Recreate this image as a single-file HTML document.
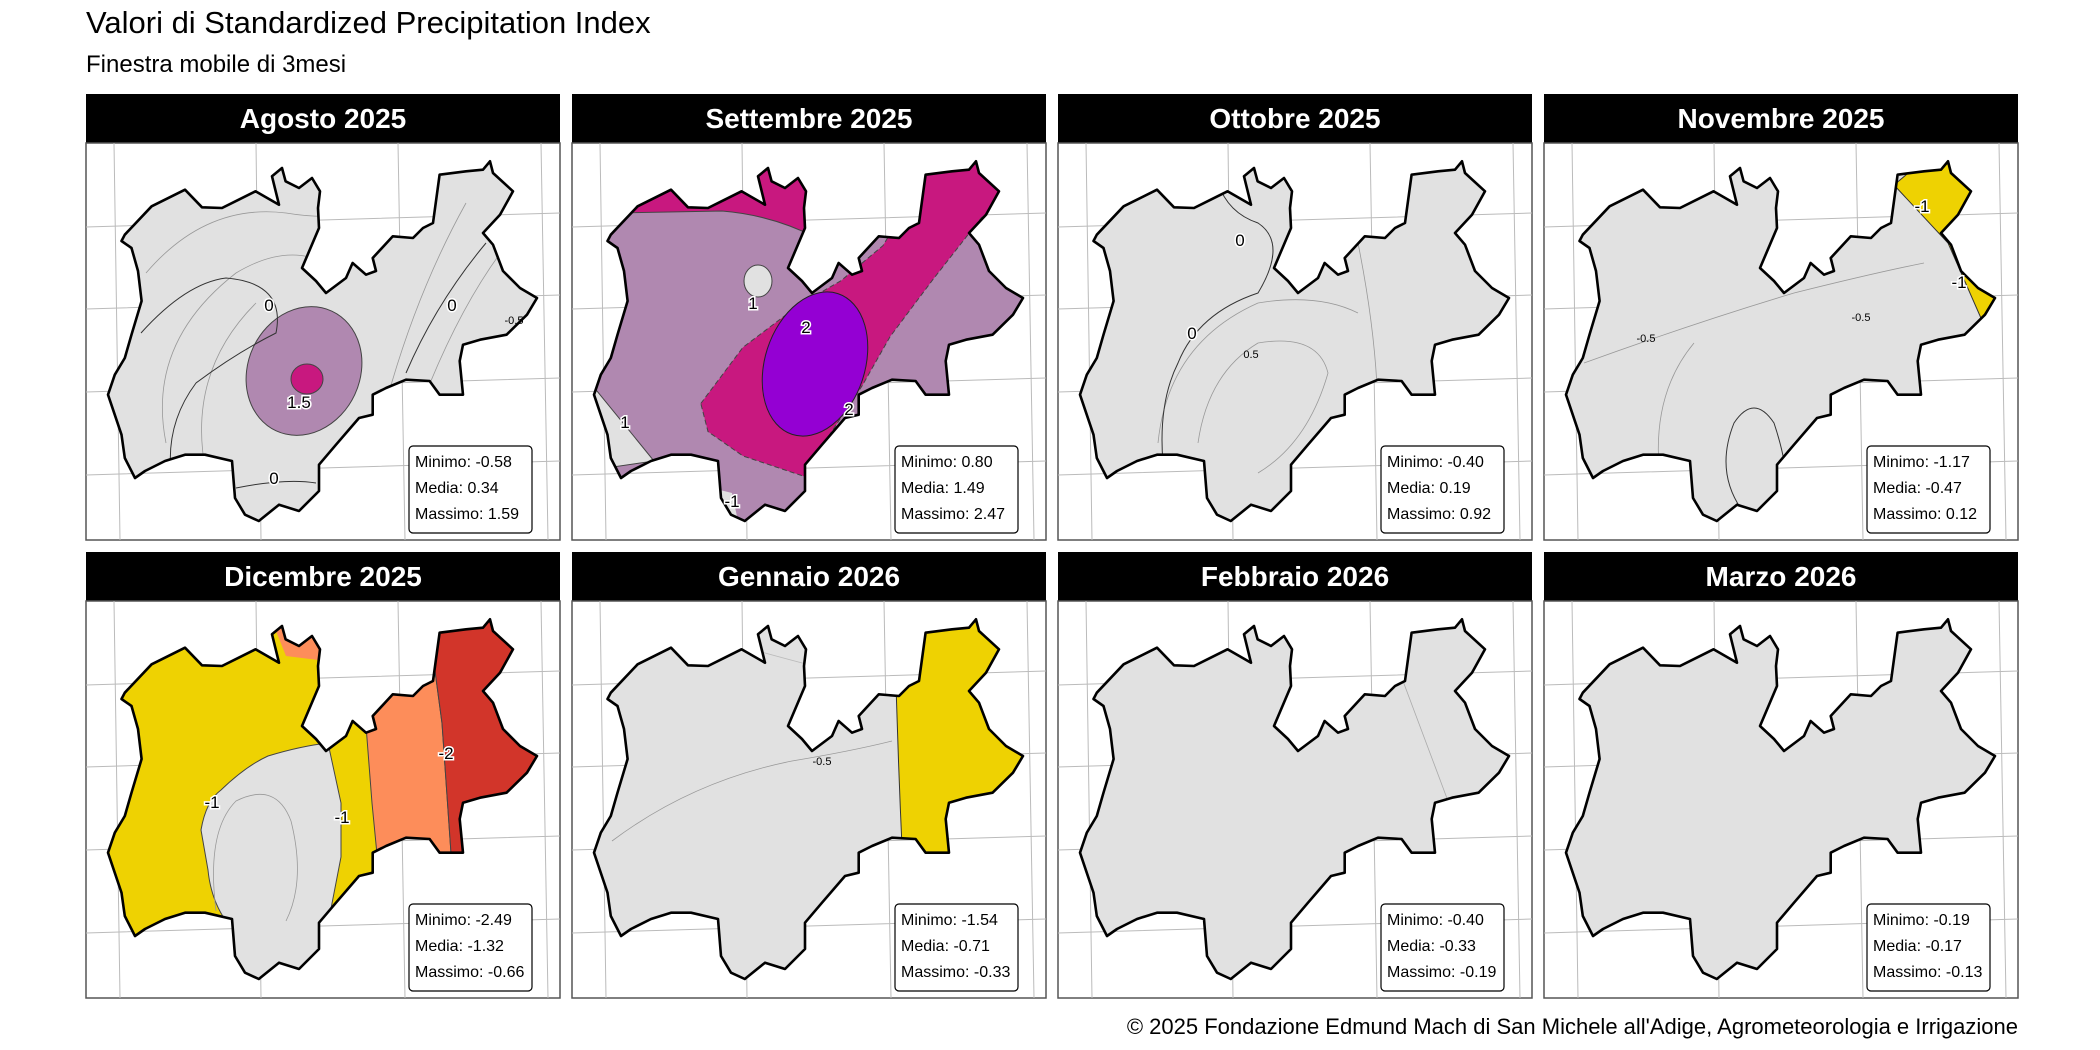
<!DOCTYPE html>
<html><head><meta charset="utf-8"><style>
html,body{margin:0;padding:0;background:#fff;}
svg{display:block;}
text{font-family:"Liberation Sans Narrow","Liberation Sans",sans-serif;}
</style></head><body>
<svg width="2100" height="1050" viewBox="0 0 2100 1050" xmlns="http://www.w3.org/2000/svg">
<defs>
<path id="ol" d="M65.6,63.3 L99,46.7 116,64.3 136,65 152.7,56.7 169.5,48.3 193,61.7 186,33.3 196,25 199.6,38.3 213,45 226,35 234,48.3 232,65 233,85 216,125 230,138 240,150 260,135 266.6,120 280,131.7 290,128 286.7,115 306.8,93.3 327,95 337,85 347,80 353.6,31.7 380,28.3 397,26.7 404,18.3 407,30 427,48.3 414,71.7 397,90 407,101.7 417,128 434,145 451,155 441,171.7 420.6,191.7 394,196.7 377,201.7 373.7,218 377,251.7 353.6,251.7 343.6,238 320,236.7 300,245 286.7,251.7 286.7,271.7 273,275 250,301.7 233,321.7 233,348 213,368 193,361.7 172.8,378 159,371.7 149,355 146,318 119,311.7 99,311.7 79,318 59,328 49,335 38.8,315 35.5,291.7 22,251.7 28.8,231.7 38.8,215 45.5,191.7 55.6,158 52,128 45.5,105 35.5,98 38.8,91.7 Z"/>
<clipPath id="cl"><use href="#ol"/></clipPath>
<clipPath id="bx"><rect x="0" y="0" width="474" height="397"/></clipPath>
<g id="grat" clip-path="url(#bx)" stroke="#bbb" stroke-width="1" fill="none">
<path d="M28,0 L34,397 M170,0 L175,397 M312,0 L319,397 M455,0 L462,397"/>
<path d="M0,84 L474,70 M0,166 L474,152 M0,249 L474,235 M0,332 L474,318"/>
</g>
</defs>

<text x="86" y="33" font-size="31" fill="#000">Valori di Standardized Precipitation Index</text>
<text x="86" y="72" font-size="24" fill="#000">Finestra mobile di 3mesi</text>
<text x="2018" y="1034" font-size="22" text-anchor="end" fill="#000">© 2025 Fondazione Edmund Mach di San Michele all'Adige, Agrometeorologia e Irrigazione</text>

<!-- Panel 1 -->
<g transform="translate(86,143)">
<rect x="0" y="-49" width="474" height="49" fill="#000"/>
<text x="237" y="-15" font-size="28" font-weight="bold" fill="#fff" text-anchor="middle">Agosto 2025</text>
<rect x="0" y="0" width="474" height="397" fill="#fff" stroke="#555" stroke-width="1.5"/>
<use href="#grat"/>
<g clip-path="url(#cl)">
<rect width="474" height="397" fill="#e1e1e1"/>
<ellipse cx="218" cy="228" rx="56" ry="66" transform="rotate(25 218 228)" fill="#b088b0" stroke="#444" stroke-width="1"/>
<ellipse cx="221" cy="236" rx="16" ry="15" fill="#c8187f" stroke="#444" stroke-width="1"/>
<g fill="none" stroke="#999" stroke-width="0.8">
<path d="M60,130 Q120,60 200,70 Q260,80 300,60"/>
<path d="M80,300 Q60,200 150,130 Q200,100 240,120"/>
<path d="M120,330 Q100,230 170,160"/>
<path d="M300,260 Q330,150 380,60"/>
<path d="M340,250 Q380,150 430,90"/>
</g>
<g fill="none" stroke="#333" stroke-width="1">
<path d="M55,190 Q100,140 140,135 Q200,140 190,190 Q150,210 110,240 Q80,280 85,330"/>
<path d="M320,230 Q350,160 400,100"/>
<path d="M150,345 Q200,335 230,340"/>
</g>
</g>
<use href="#ol" fill="none" stroke="#000" stroke-width="2.6" stroke-linejoin="round"/>
<text x="183" y="168" font-size="17" text-anchor="middle" fill="#000" stroke="#fff" stroke-width="3" paint-order="stroke">0</text>
<text x="366" y="168" font-size="17" text-anchor="middle" fill="#000" stroke="#fff" stroke-width="3" paint-order="stroke">0</text>
<text x="188" y="341" font-size="17" text-anchor="middle" fill="#000" stroke="#fff" stroke-width="3" paint-order="stroke">0</text>
<text x="213" y="265" font-size="17" text-anchor="middle" fill="#000" stroke="#fff" stroke-width="3" paint-order="stroke">1.5</text>
<text x="428" y="181" font-size="11" text-anchor="middle" fill="#000">-0.5</text>
<rect x="323" y="303" width="123" height="87" rx="4" fill="#fff" stroke="#000" stroke-width="1.2"/>
<text font-size="16" fill="#000"><tspan x="329" y="324">Minimo:  -0.58</tspan><tspan x="329" y="350">Media:     0.34</tspan><tspan x="329" y="376">Massimo: 1.59</tspan></text>
</g>

<!-- Panel 2 -->
<g transform="translate(572,143)">
<rect x="0" y="-49" width="474" height="49" fill="#000"/>
<text x="237" y="-15" font-size="28" font-weight="bold" fill="#fff" text-anchor="middle">Settembre 2025</text>
<rect x="0" y="0" width="474" height="397" fill="#fff" stroke="#555" stroke-width="1.5"/>
<use href="#grat"/>
<g clip-path="url(#cl)">
<rect width="474" height="397" fill="#b088b0"/>
<path d="M0,0 L245,0 L245,95 Q200,72 150,68 L40,70 L0,70 Z" fill="#c8187f" stroke="#444" stroke-width="1"/>
<path d="M128.8,260.5 L170.9,204.4 227,162 269,137.7 311,102.6 353,32.4 400,0 474,0 474,40 440,60 409.5,74.5 360,137.7 318,193.8 290,243 255,295.6 234,334 171,313 136,288.6 Z" fill="#c8187f" stroke="#444" stroke-width="1" stroke-dasharray="5,3"/>
<ellipse cx="243" cy="221" rx="50" ry="74" transform="rotate(18 243 221)" fill="#9400d3" stroke="#222" stroke-width="1"/>
<ellipse cx="186" cy="138" rx="14" ry="16" fill="#e1e1e1" stroke="#444" stroke-width="1"/>
<path d="M0,240 L25,248 L82,318 L0,330 Z" fill="#e1e1e1" stroke="#444" stroke-width="1"/>
<path d="M120,340 L160,350 L170,397 L100,397 Z" fill="#e1e1e1"/>
</g>
<use href="#ol" fill="none" stroke="#000" stroke-width="2.6" stroke-linejoin="round"/>
<text x="181" y="166" font-size="17" text-anchor="middle" fill="#000" stroke="#fff" stroke-width="3" paint-order="stroke">1</text>
<text x="234" y="190" font-size="17" text-anchor="middle" fill="#000" stroke="#fff" stroke-width="3" paint-order="stroke">2</text>
<text x="277" y="272" font-size="17" text-anchor="middle" fill="#000" stroke="#fff" stroke-width="3" paint-order="stroke">2</text>
<text x="53" y="285" font-size="17" text-anchor="middle" fill="#000" stroke="#fff" stroke-width="3" paint-order="stroke">1</text>
<text x="160" y="364" font-size="17" text-anchor="middle" fill="#000" stroke="#fff" stroke-width="3" paint-order="stroke">-1</text>
<rect x="323" y="303" width="123" height="87" rx="4" fill="#fff" stroke="#000" stroke-width="1.2"/>
<text font-size="16" fill="#000"><tspan x="329" y="324">Minimo:   0.80</tspan><tspan x="329" y="350">Media:     1.49</tspan><tspan x="329" y="376">Massimo: 2.47</tspan></text>
</g>

<!-- Panel 3 -->
<g transform="translate(1058,143)">
<rect x="0" y="-49" width="474" height="49" fill="#000"/>
<text x="237" y="-15" font-size="28" font-weight="bold" fill="#fff" text-anchor="middle">Ottobre 2025</text>
<rect x="0" y="0" width="474" height="397" fill="#fff" stroke="#555" stroke-width="1.5"/>
<use href="#grat"/>
<g clip-path="url(#cl)">
<rect width="474" height="397" fill="#e1e1e1"/>
<g fill="none" stroke="#999" stroke-width="0.8">
<path d="M100,300 Q110,200 200,160 Q260,150 300,170"/>
<path d="M140,300 Q150,230 200,200 Q260,190 270,230 Q250,300 200,330"/>
<path d="M300,100 Q320,200 320,280"/>
</g>
<g fill="none" stroke="#333" stroke-width="1">
<path d="M160,40 Q170,70 200,80 Q230,100 200,150 Q140,170 120,220 Q100,260 105,320"/>
</g>
</g>
<use href="#ol" fill="none" stroke="#000" stroke-width="2.6" stroke-linejoin="round"/>
<text x="182" y="103" font-size="17" text-anchor="middle" fill="#000" stroke="#fff" stroke-width="3" paint-order="stroke">0</text>
<text x="134" y="196" font-size="17" text-anchor="middle" fill="#000" stroke="#fff" stroke-width="3" paint-order="stroke">0</text>
<text x="193" y="215" font-size="11" text-anchor="middle" fill="#000">0.5</text>
<rect x="323" y="303" width="123" height="87" rx="4" fill="#fff" stroke="#000" stroke-width="1.2"/>
<text font-size="16" fill="#000"><tspan x="329" y="324">Minimo:  -0.40</tspan><tspan x="329" y="350">Media:     0.19</tspan><tspan x="329" y="376">Massimo: 0.92</tspan></text>
</g>

<!-- Panel 4 -->
<g transform="translate(1544,143)">
<rect x="0" y="-49" width="474" height="49" fill="#000"/>
<text x="237" y="-15" font-size="28" font-weight="bold" fill="#fff" text-anchor="middle">Novembre 2025</text>
<rect x="0" y="0" width="474" height="397" fill="#fff" stroke="#555" stroke-width="1.5"/>
<use href="#grat"/>
<g clip-path="url(#cl)">
<rect width="474" height="397" fill="#e1e1e1"/>
<path d="M350,42 L400,0 L474,0 L474,200 L440,182 L404,100 Z" fill="#eed202" stroke="#333" stroke-width="1"/>
<g fill="none" stroke="#999" stroke-width="0.8">
<path d="M40,220 Q150,180 250,150 Q330,130 380,120"/>
<path d="M120,360 Q100,260 150,200"/>
</g>
<path d="M200,370 Q170,330 190,280 Q210,250 230,280 Q250,340 240,380" fill="none" stroke="#333" stroke-width="1"/>
</g>
<use href="#ol" fill="none" stroke="#000" stroke-width="2.6" stroke-linejoin="round"/>
<text x="378" y="69" font-size="17" text-anchor="middle" fill="#000" stroke="#fff" stroke-width="3" paint-order="stroke">-1</text>
<text x="415" y="145" font-size="17" text-anchor="middle" fill="#000" stroke="#fff" stroke-width="3" paint-order="stroke">-1</text>
<text x="102" y="199" font-size="11" text-anchor="middle" fill="#000">-0.5</text>
<text x="317" y="178" font-size="11" text-anchor="middle" fill="#000">-0.5</text>
<rect x="323" y="303" width="123" height="87" rx="4" fill="#fff" stroke="#000" stroke-width="1.2"/>
<text font-size="16" fill="#000"><tspan x="329" y="324">Minimo:  -1.17</tspan><tspan x="329" y="350">Media:    -0.47</tspan><tspan x="329" y="376">Massimo: 0.12</tspan></text>
</g>

<!-- Panel 5 -->
<g transform="translate(86,601)">
<rect x="0" y="-49" width="474" height="49" fill="#000"/>
<text x="237" y="-15" font-size="28" font-weight="bold" fill="#fff" text-anchor="middle">Dicembre 2025</text>
<rect x="0" y="0" width="474" height="397" fill="#fff" stroke="#555" stroke-width="1.5"/>
<use href="#grat"/>
<g clip-path="url(#cl)">
<rect width="474" height="397" fill="#eed202"/>
<path d="M115,229 Q120,200 135,189 Q160,165 182,155 Q215,145 242,142 L255,202 L255,256 L242,323 L242,397 L142,397 L142,323 Q125,300 122,269 Z" fill="#e1e1e1" stroke="#444" stroke-width="1"/>
<path d="M275,60 L345,40 L356,122 L375,397 L305,397 L286,202 Z" fill="#fd8d5a" stroke="#444" stroke-width="1"/>
<path d="M345,40 L345,0 L474,0 L474,397 L375,397 L356,122 Z" fill="#d2352a" stroke="#444" stroke-width="1"/>
<path d="M186,20 L240,20 L240,60 L200,55 Z" fill="#fd8d5a"/>
<path d="M130,310 Q120,230 150,200 Q190,180 205,220 Q220,280 200,320" fill="none" stroke="#999" stroke-width="0.8"/>
</g>
<use href="#ol" fill="none" stroke="#000" stroke-width="2.6" stroke-linejoin="round"/>
<text x="126" y="207" font-size="17" text-anchor="middle" fill="#000" stroke="#fff" stroke-width="3" paint-order="stroke">-1</text>
<text x="256" y="222" font-size="17" text-anchor="middle" fill="#000" stroke="#fff" stroke-width="3" paint-order="stroke">-1</text>
<text x="360" y="158" font-size="17" text-anchor="middle" fill="#000" stroke="#fff" stroke-width="3" paint-order="stroke">-2</text>
<rect x="323" y="303" width="123" height="87" rx="4" fill="#fff" stroke="#000" stroke-width="1.2"/>
<text font-size="16" fill="#000"><tspan x="329" y="324">Minimo:  -2.49</tspan><tspan x="329" y="350">Media:     -1.32</tspan><tspan x="329" y="376">Massimo: -0.66</tspan></text>
</g>

<!-- Panel 6 -->
<g transform="translate(572,601)">
<rect x="0" y="-49" width="474" height="49" fill="#000"/>
<text x="237" y="-15" font-size="28" font-weight="bold" fill="#fff" text-anchor="middle">Gennaio 2026</text>
<rect x="0" y="0" width="474" height="397" fill="#fff" stroke="#555" stroke-width="1.5"/>
<use href="#grat"/>
<g clip-path="url(#cl)">
<rect width="474" height="397" fill="#e1e1e1"/>
<path d="M322,0 L474,0 L474,397 L338,397 Q326,200 322,0 Z" fill="#eed202" stroke="#333" stroke-width="1"/>
<path d="M40,240 Q120,180 220,160 Q280,150 320,140" fill="none" stroke="#999" stroke-width="0.8"/>
<path d="M150,40 Q220,60 300,80" fill="none" stroke="#bbb" stroke-width="0.8"/>
</g>
<use href="#ol" fill="none" stroke="#000" stroke-width="2.6" stroke-linejoin="round"/>
<text x="250" y="164" font-size="11" text-anchor="middle" fill="#000">-0.5</text>
<rect x="323" y="303" width="123" height="87" rx="4" fill="#fff" stroke="#000" stroke-width="1.2"/>
<text font-size="16" fill="#000"><tspan x="329" y="324">Minimo:  -1.54</tspan><tspan x="329" y="350">Media:     -0.71</tspan><tspan x="329" y="376">Massimo: -0.33</tspan></text>
</g>

<!-- Panel 7 -->
<g transform="translate(1058,601)">
<rect x="0" y="-49" width="474" height="49" fill="#000"/>
<text x="237" y="-15" font-size="28" font-weight="bold" fill="#fff" text-anchor="middle">Febbraio 2026</text>
<rect x="0" y="0" width="474" height="397" fill="#fff" stroke="#555" stroke-width="1.5"/>
<use href="#grat"/>
<g clip-path="url(#cl)">
<rect width="474" height="397" fill="#e1e1e1"/>
<path d="M345,80 L390,200" fill="none" stroke="#aaa" stroke-width="0.8"/>
</g>
<use href="#ol" fill="none" stroke="#000" stroke-width="2.6" stroke-linejoin="round"/>
<rect x="323" y="303" width="123" height="87" rx="4" fill="#fff" stroke="#000" stroke-width="1.2"/>
<text font-size="16" fill="#000"><tspan x="329" y="324">Minimo:  -0.40</tspan><tspan x="329" y="350">Media:     -0.33</tspan><tspan x="329" y="376">Massimo: -0.19</tspan></text>
</g>

<!-- Panel 8 -->
<g transform="translate(1544,601)">
<rect x="0" y="-49" width="474" height="49" fill="#000"/>
<text x="237" y="-15" font-size="28" font-weight="bold" fill="#fff" text-anchor="middle">Marzo 2026</text>
<rect x="0" y="0" width="474" height="397" fill="#fff" stroke="#555" stroke-width="1.5"/>
<use href="#grat"/>
<use href="#ol" fill="#e1e1e1" stroke="#000" stroke-width="2.6" stroke-linejoin="round"/>
<rect x="323" y="303" width="123" height="87" rx="4" fill="#fff" stroke="#000" stroke-width="1.2"/>
<text font-size="16" fill="#000"><tspan x="329" y="324">Minimo:  -0.19</tspan><tspan x="329" y="350">Media:     -0.17</tspan><tspan x="329" y="376">Massimo: -0.13</tspan></text>
</g>
</svg>
</body></html>
